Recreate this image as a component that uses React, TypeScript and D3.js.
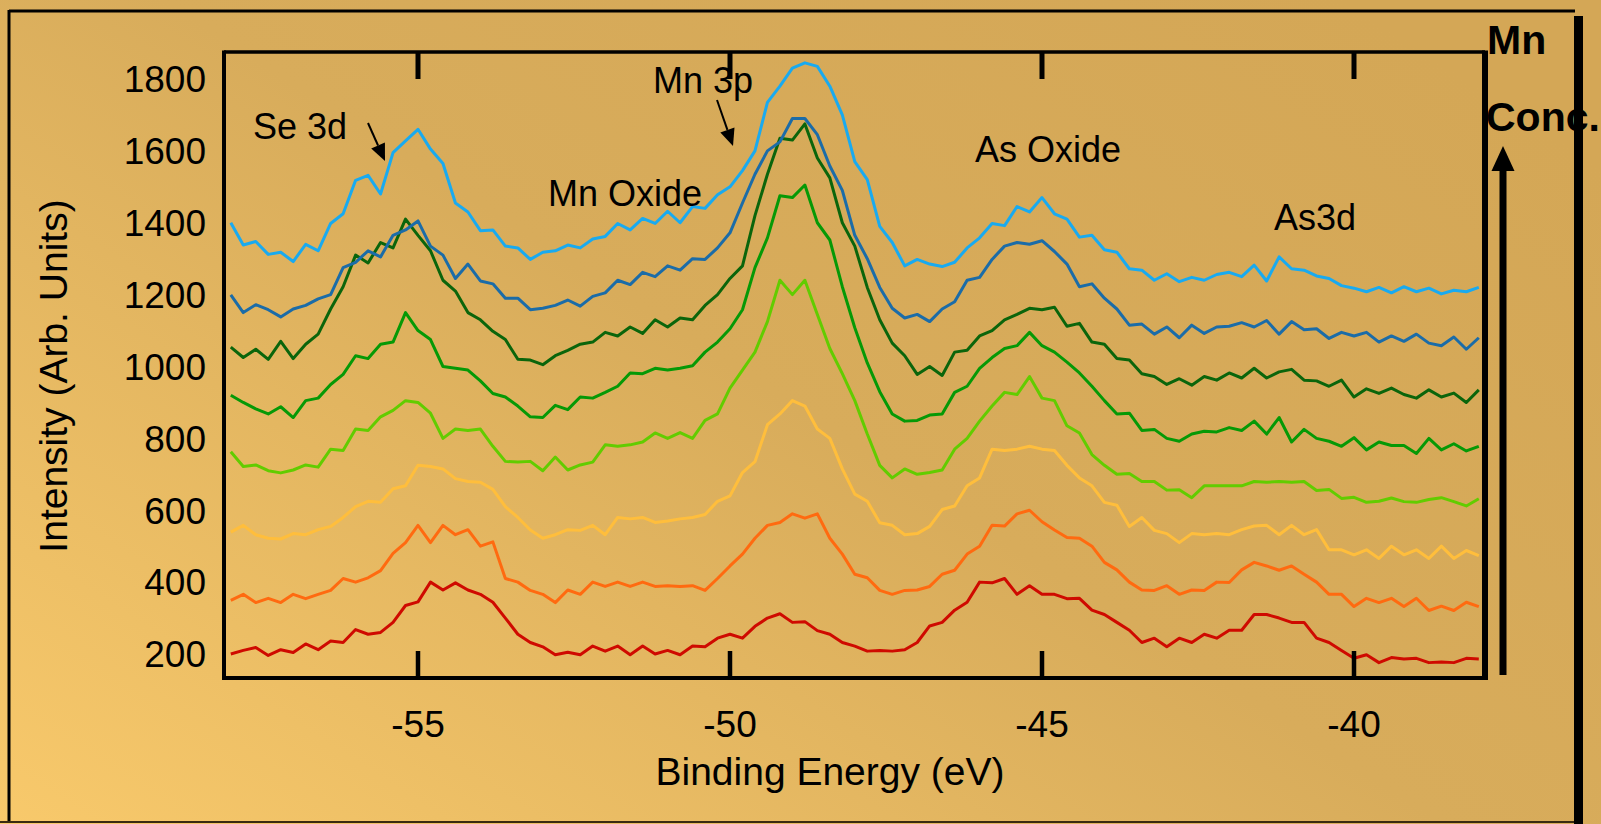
import React from 'react';
import * as d3 from 'd3';

// Binding energy grid (eV)
const energies = [
  -58.0, -57.8, -57.6, -57.4, -57.2, -57.0, -56.8, -56.6, -56.4, -56.2, -56.0, -55.8, -55.6, -55.4, -55.2, -55.0, -54.8, -54.6, -54.4, -54.2, -54.0,
  -53.8, -53.6, -53.4, -53.2, -53.0, -52.8, -52.6, -52.4, -52.2, -52.0, -51.8, -51.6, -51.4, -51.2, -51.0, -50.8, -50.6, -50.4, -50.2, -50.0,
  -49.8, -49.6, -49.4, -49.2, -49.0, -48.8, -48.6, -48.4, -48.2, -48.0, -47.8, -47.6, -47.4, -47.2, -47.0, -46.8, -46.6, -46.4, -46.2, -46.0,
  -45.8, -45.6, -45.4, -45.2, -45.0, -44.8, -44.6, -44.4, -44.2, -44.0, -43.8, -43.6, -43.4, -43.2, -43.0, -42.8, -42.6, -42.4, -42.2, -42.0,
  -41.8, -41.6, -41.4, -41.2, -41.0, -40.8, -40.6, -40.4, -40.2, -40.0, -39.8, -39.6, -39.4, -39.2, -39.0, -38.8, -38.6, -38.4, -38.2, -38.0,
];

// Spectra (Arb. Units), highest Mn concentration first
const lightBlue = [
  1400, 1338, 1348, 1312, 1318, 1292, 1340, 1322, 1398, 1425, 1518, 1532, 1480, 1595, 1628, 1660, 1605, 1565, 1455, 1430, 1378,
  1380, 1335, 1330, 1298, 1318, 1322, 1338, 1330, 1355, 1362, 1398, 1380, 1412, 1398, 1432, 1400, 1445, 1440, 1478, 1500,
  1545, 1600, 1735, 1780, 1830, 1845, 1835, 1780, 1700, 1570, 1520, 1390, 1345, 1280, 1298, 1285, 1278, 1290, 1330, 1358,
  1398, 1392, 1445, 1430, 1470, 1425, 1410, 1360, 1365, 1325, 1318, 1272, 1268, 1240, 1258, 1236, 1248, 1240, 1256, 1262,
  1250, 1282, 1238, 1305, 1272, 1268, 1252, 1245, 1225, 1218, 1208, 1220, 1205, 1222, 1208, 1218, 1202, 1212, 1208, 1220,
];
const steelBlue = [
  1199, 1150, 1172, 1158, 1138, 1160, 1170, 1188, 1200, 1275, 1290, 1322, 1305, 1365, 1380, 1405, 1335, 1310, 1245, 1285, 1238,
  1230, 1190, 1190, 1158, 1162, 1170, 1185, 1168, 1195, 1205, 1240, 1228, 1262, 1250, 1280, 1268, 1300, 1298, 1330, 1372,
  1455, 1535, 1600, 1625, 1690, 1690, 1645, 1558, 1490, 1365, 1300, 1220, 1162, 1135, 1145, 1125, 1160, 1180, 1240, 1248,
  1298, 1335, 1345, 1340, 1350, 1320, 1285, 1222, 1230, 1190, 1160, 1115, 1118, 1090, 1110, 1080, 1115, 1092, 1110, 1112,
  1122, 1110, 1128, 1090, 1125, 1102, 1105, 1078, 1095, 1085, 1095, 1068, 1085, 1070, 1090, 1065, 1058, 1082, 1048, 1080,
];
const darkGreen = [
  1054, 1025, 1048, 1020, 1070, 1022, 1062, 1090, 1160, 1222, 1310, 1288, 1345, 1330, 1410, 1365, 1322, 1240, 1210, 1150, 1130,
  1098, 1075, 1020, 1018, 1005, 1030, 1045, 1062, 1068, 1095, 1085, 1110, 1092, 1130, 1110, 1135, 1130, 1170, 1200, 1245,
  1280, 1420, 1535, 1635, 1630, 1675, 1580, 1525, 1400, 1335, 1220, 1130, 1065, 1030, 978, 1000, 975, 1040, 1045, 1085,
  1100, 1130, 1145, 1162, 1158, 1165, 1112, 1120, 1068, 1062, 1022, 1018, 980, 972, 950, 966, 948, 972, 962, 982,
  968, 995, 968, 985, 992, 962, 960, 945, 962, 915, 938, 925, 940, 922, 912, 935, 915, 926, 900, 935,
];
const green = [
  920, 900, 882, 868, 888, 858, 905, 912, 950, 978, 1030, 1022, 1062, 1068, 1150, 1100, 1075, 1000, 995, 990, 960,
  925, 915, 890, 860, 858, 892, 880, 915, 912, 928, 945, 982, 980, 995, 990, 995, 1002, 1040, 1068, 1105,
  1158, 1275, 1358, 1475, 1470, 1505, 1400, 1352, 1222, 1108, 1010, 930, 868, 848, 850, 865, 868, 928, 945, 995,
  1025, 1050, 1058, 1095, 1058, 1040, 1012, 982, 945, 905, 868, 870, 822, 825, 800, 792, 812, 820, 818, 830,
  822, 848, 812, 858, 790, 825, 800, 792, 778, 802, 768, 790, 780, 780, 758, 800, 768, 785, 765, 778,
];
const lightGreen = [
  763, 722, 726, 710, 704, 712, 726, 720, 770, 766, 826, 822, 860, 878, 905, 900, 870, 800, 826, 822, 826,
  778, 736, 734, 736, 710, 748, 712, 726, 734, 782, 778, 782, 790, 815, 800, 816, 800, 850, 868, 940,
  990, 1040, 1125, 1240, 1200, 1240, 1145, 1050, 980, 905, 812, 725, 690, 715, 700, 705, 712, 770, 800, 848,
  890, 928, 922, 972, 912, 905, 835, 815, 755, 725, 700, 702, 680, 680, 656, 657, 635, 668, 668, 668,
  668, 680, 678, 680, 678, 680, 655, 658, 633, 636, 622, 625, 634, 624, 622, 630, 635, 624, 612, 632,
];
const lightOrange = [
  539, 558, 532, 522, 520, 535, 532, 546, 555, 580, 610, 625, 622, 660, 668, 725, 722, 715, 688, 680, 678,
  658, 610, 580, 545, 522, 532, 546, 544, 558, 532, 580, 576, 580, 566, 570, 576, 580, 588, 625, 640,
  705, 735, 838, 868, 905, 890, 826, 800, 715, 645, 625, 565, 558, 532, 535, 555, 602, 612, 668, 690,
  770, 766, 770, 778, 770, 766, 725, 690, 668, 622, 614, 555, 580, 544, 535, 510, 535, 532, 535, 532,
  546, 556, 558, 532, 558, 532, 546, 490, 490, 476, 490, 466, 500, 476, 490, 466, 500, 466, 488, 474,
];
const orange = [
  349, 366, 343, 355, 343, 366, 354, 366, 377, 410, 400, 412, 432, 480, 510, 558, 510, 558, 532, 546, 500,
  512, 410, 400, 377, 366, 343, 378, 366, 400, 388, 400, 388, 400, 388, 390, 388, 390, 377, 410, 445,
  478, 522, 558, 566, 590, 578, 590, 522, 478, 422, 412, 377, 366, 377, 378, 388, 422, 433, 478, 500,
  558, 556, 590, 600, 568, 545, 524, 522, 500, 455, 434, 400, 378, 377, 390, 366, 378, 377, 400, 399,
  434, 455, 445, 433, 445, 422, 400, 366, 366, 332, 355, 343, 355, 332, 355, 321, 333, 321, 344, 332,
];
const red = [
  200, 210, 218, 196, 212, 204, 228, 212, 236, 232, 268, 255, 260, 288, 335, 345, 400, 378, 398, 378, 366,
  344, 300, 255, 232, 220, 198, 205, 198, 222, 208, 222, 198, 222, 200, 210, 198, 222, 220, 244, 255,
  244, 277, 300, 312, 288, 290, 265, 255, 232, 222, 208, 210, 208, 212, 232, 278, 288, 322, 344, 400,
  398, 410, 366, 390, 366, 366, 354, 355, 322, 310, 288, 266, 232, 244, 220, 244, 232, 255, 244, 266,
  266, 310, 310, 300, 288, 288, 244, 232, 210, 188, 198, 176, 190, 186, 188, 176, 178, 176, 188, 186,
];

const seriesList = [red, orange, lightOrange, lightGreen, green, darkGreen, steelBlue, lightBlue];
const seriesColors = ['#cf0a00', '#ff6a10', '#ffbe3c', '#62cc00', '#069906', '#0b650b', '#1b6ca8', '#19aaf0'];

const xTicks = [-55, -50, -45, -40];
const yTicks = [200, 400, 600, 800, 1000, 1200, 1400, 1600, 1800];

const annotations = [
  { text: 'Se 3d', x: 253, y: 139 },
  { text: 'Mn 3p', x: 653, y: 93 },
  { text: 'Mn Oxide', x: 548, y: 206 },
  { text: 'As Oxide', x: 975, y: 162 },
  { text: 'As3d', x: 1274, y: 230 },
];

function Arrow({ x1, y1, x2, y2, head = 17, half = 7.5, width = 2 }: any) {
  const dx = x2 - x1, dy = y2 - y1;
  const len = Math.hypot(dx, dy);
  const ux = dx / len, uy = dy / len;
  const bx = x2 - ux * head, by = y2 - uy * head;
  const px = -uy * half, py = ux * half;
  return (
    <g>
      <line x1={x1} y1={y1} x2={bx} y2={by} stroke="#000" strokeWidth={width} />
      <polygon points={`${x2},${y2} ${bx + px},${by + py} ${bx - px},${by - py}`} fill="#000" />
    </g>
  );
}

export default function App() {
  const W = 1601, H = 824;
  const left = 224, right = 1485, top = 52, bottom = 678;
  const x = d3.scaleLinear().domain([-55, -40]).range([418, 1354]);
  const y = d3.scaleLinear().domain([200, 1800]).range([654, 79]);
  const line = d3.line<number>().x((_, i) => x(energies[i])).y((d) => y(d));
  const font = "'Liberation Sans', Arial, sans-serif";

  return (
    <div style={{ position: 'absolute', left: 0, top: 0, width: W, height: H }}>
      <svg width={W} height={H} style={{ display: 'block' }} fontFamily={font}>
        <defs>
          <linearGradient id="bg" x1="0" y1="1" x2="1" y2="0.2">
            <stop offset="0" stopColor="#f8c96b" />
            <stop offset="0.55" stopColor="#d8ac5b" />
            <stop offset="1" stopColor="#d4a756" />
          </linearGradient>
        </defs>
        <rect x={0} y={0} width={W} height={H} fill="url(#bg)" />

        {/* outer slide frame */}
        <line x1={9} y1={11} x2={1575} y2={11} stroke="#000" strokeWidth={3} />
        <line x1={9} y1={10} x2={9} y2={822} stroke="#000" strokeWidth={3} />
        <line x1={0} y1={822} x2={1578} y2={822} stroke="#3a2a10" strokeWidth={2} />
        <rect x={1574} y={16} width={9} height={H - 16} fill="#000" />

        {/* spectra */}
        {seriesList.map((s, i) => (
          <path key={i} d={line(s) || ''} fill="none" stroke={seriesColors[i]} strokeWidth={3} strokeLinejoin="round" />
        ))}

        {/* plot frame */}
        <line x1={left} y1={top} x2={right} y2={top} stroke="#000" strokeWidth={3.5} />
        <line x1={left} y1={bottom} x2={right + 3} y2={bottom} stroke="#000" strokeWidth={4} />
        <line x1={left} y1={top - 1.5} x2={left} y2={bottom + 2} stroke="#000" strokeWidth={4} />
        <line x1={right} y1={top - 1.5} x2={right} y2={bottom + 2} stroke="#000" strokeWidth={6} />

        {/* ticks */}
        {xTicks.map((t) => (
          <g key={t}>
            <line x1={x(t)} y1={bottom} x2={x(t)} y2={bottom - 27} stroke="#000" strokeWidth={4.5} />
            <line x1={x(t)} y1={top} x2={x(t)} y2={top + 27} stroke="#000" strokeWidth={5} />
            <text x={x(t)} y={737} textAnchor="middle" fontSize={37} fill="#000">{t}</text>
          </g>
        ))}
        {yTicks.map((t) => (
          <text key={t} x={206} y={y(t)} dy="0.36em" textAnchor="end" fontSize={37} fill="#000">{t}</text>
        ))}

        {/* axis titles */}
        <text x={830} y={785} textAnchor="middle" fontSize={39} fill="#000">Binding Energy (eV)</text>
        <text transform="translate(67,376) rotate(-90)" textAnchor="middle" fontSize={39} fill="#000">Intensity (Arb. Units)</text>

        {/* peak annotations */}
        {annotations.map((a) => (
          <text key={a.text} x={a.x} y={a.y} fontSize={36} fill="#000">{a.text}</text>
        ))}
        <Arrow x1={368} y1={123} x2={385} y2={161} />
        <Arrow x1={717} y1={100} x2={733} y2={146} />

        {/* Mn concentration arrow */}
        <rect x={1499.5} y={168} width={7} height={507} fill="#000" />
        <polygon points="1503,146 1491.5,171 1514.5,171" fill="#000" />
        <text x={1487} y={54} fontSize={41} fontWeight="bold" fill="#000">Mn</text>
        <text x={1486} y={131} fontSize={41} fontWeight="bold" fill="#000">Conc.</text>
      </svg>
    </div>
  );
}
